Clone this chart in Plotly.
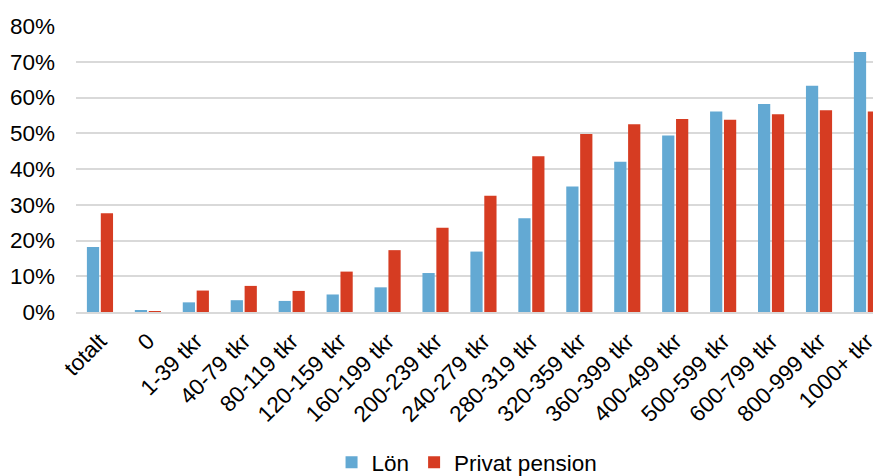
import plotly.graph_objects as go

categories = ["totalt", "0", "1-39 tkr", "40-79 tkr", "80-119 tkr", "120-159 tkr",
              "160-199 tkr", "200-239 tkr", "240-279 tkr", "280-319 tkr", "320-359 tkr",
              "360-399 tkr", "400-499 tkr", "500-599 tkr", "600-799 tkr", "800-999 tkr",
              "1000+ tkr"]
lon = [18.2, 0.3, 2.7, 3.3, 3.1, 4.9, 6.9, 10.9, 16.9, 26.2, 35.1, 42.0, 49.4, 56.1, 58.2, 63.3, 72.7]
privat_pension = [27.6, 0.2, 6.0, 7.3, 5.9, 11.3, 17.3, 23.6, 32.5, 43.6, 49.8, 52.5, 54.0, 53.8, 55.3, 56.4, 56.1]
yticks = [0, 10, 20, 30, 40, 50, 60, 70, 80]

font_family = "Liberation Sans, Arial, sans-serif"

fig = go.Figure()
fig.add_trace(go.Bar(x=categories, y=[v / 100 for v in lon], name="Lön",
                     marker=dict(color="#63A9D3", line=dict(width=0))))
fig.add_trace(go.Bar(x=categories, y=[v / 100 for v in privat_pension], name="Privat pension",
                     marker=dict(color="#D63C22", line=dict(width=0))))

fig.update_layout(
    width=881, height=476,
    margin=dict(l=68, r=0, t=18, b=172),
    paper_bgcolor="white", plot_bgcolor="white",
    barmode="group", bargap=0.42, bargroupgap=0.12,
    font=dict(family=font_family, size=22.5, color="#000000"),
    showlegend=True,
    legend=dict(orientation="h", x=0.481, xanchor="center", y=-0.528, yanchor="middle",
                font=dict(size=22.5), itemwidth=30, traceorder="normal"),
    xaxis=dict(range=[-0.5, 16.46], tickangle=-45, showgrid=False, automargin=False,
               showline=True, linecolor="#d9d9d9", linewidth=2,
               ticks="", ticklabelstandoff=5, tickfont=dict(size=22.5)),
    yaxis=dict(range=[0, 0.8], tickvals=[v / 100 for v in yticks], automargin=False,
               ticktext=[f"{v}%" for v in yticks],
               showgrid=True, gridcolor="#d9d9d9", gridwidth=2,
               zeroline=False, showline=False, ticks="",
               ticklabelstandoff=20, tickfont=dict(size=22.5)),
)

fig.write_html("out.html")
